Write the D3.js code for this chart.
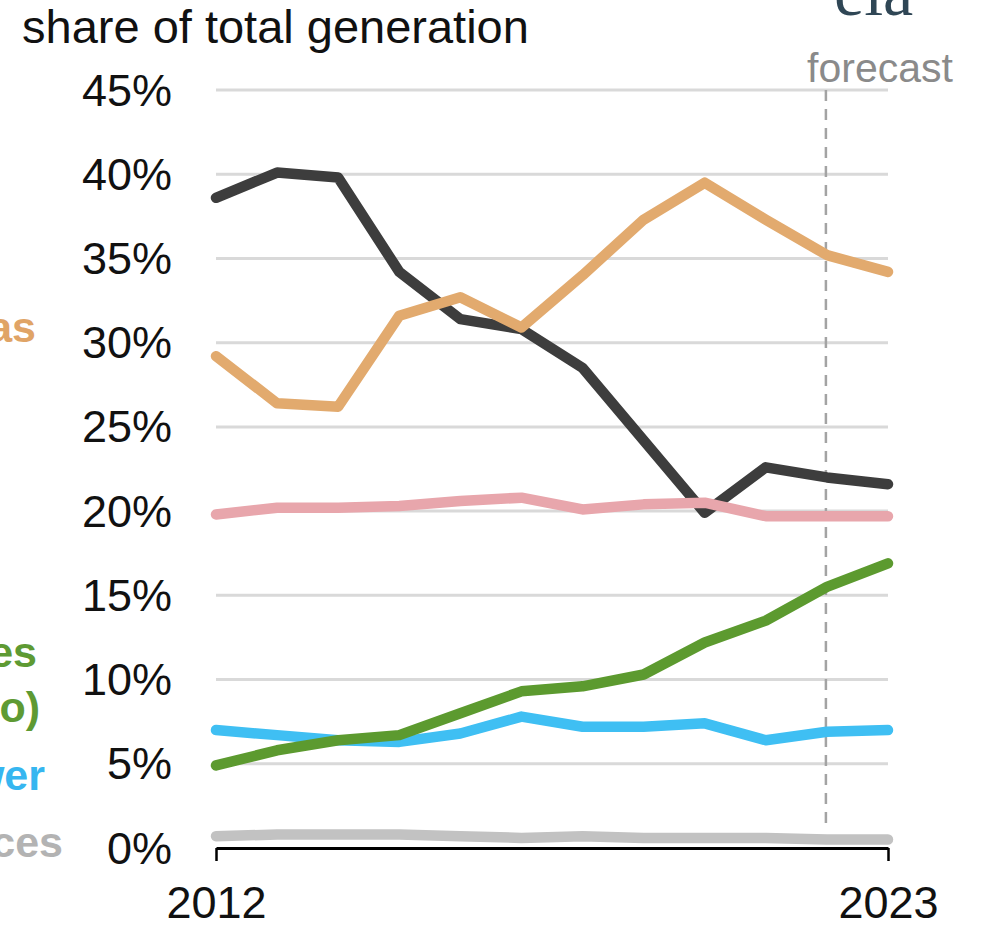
<!DOCTYPE html>
<html>
<head>
<meta charset="utf-8">
<script src="https://cdn.jsdelivr.net/npm/d3@7"></script>
<style>
  html, body { margin: 0; padding: 0; background: #fff; }
  svg { display: block; font-family: "Liberation Sans", Arial, sans-serif; }
</style>
</head>
<body>
<svg id="chart" width="987" height="925"></svg>
<script>
const years = [2012, 2013, 2014, 2015, 2016, 2017, 2018, 2019, 2020, 2021, 2022, 2023];
const coal =       [38.6, 40.1, 39.8, 34.2, 31.4, 30.8, 28.5, 24.2, 19.9, 22.6, 22.0, 21.6];
const naturalGas = [29.2, 26.4, 26.2, 31.6, 32.7, 30.9, 34.0, 37.3, 39.5, 37.3, 35.2, 34.2];
const nuclear =    [19.8, 20.2, 20.2, 20.3, 20.6, 20.8, 20.1, 20.4, 20.5, 19.7, 19.7, 19.7];
const renewables = [4.9, 5.8, 6.4, 6.7, 8.0, 9.3, 9.6, 10.3, 12.2, 13.5, 15.5, 16.9];
const hydropower = [7.0, 6.7, 6.4, 6.3, 6.8, 7.8, 7.2, 7.2, 7.4, 6.4, 6.9, 7.0];
const otherSources = [0.7, 0.8, 0.8, 0.8, 0.7, 0.6, 0.7, 0.6, 0.6, 0.6, 0.5, 0.5];
const yTicks = [0, 5, 10, 15, 20, 25, 30, 35, 40, 45];
const xTickLabels = [2012, 2023];
const forecastYear = 2022;

const series = [
  { name: "other sources", values: otherSources, color: "#c2c2c2", label: "#b3b3b3", lines: ["other sources"], lx: [63], ly: [857] },
  { name: "hydropower", values: hydropower, color: "#3fbff3", label: "#36b6f0", lines: ["hydropower"], lx: [45], ly: [790] },
  { name: "coal", values: coal, color: "#3d3d3d", label: "#3d3d3d", lines: [], lx: [], ly: [] },
  { name: "natural gas", values: naturalGas, color: "#e2aa6e", label: "#e0a466", lines: ["natural gas"], lx: [36], ly: [342] },
  { name: "nuclear", values: nuclear, color: "#e8a6ac", label: "#e8a6ac", lines: [], lx: [], ly: [] },
  { name: "renewables", values: renewables, color: "#5c9a2f", label: "#5e9a33", lines: ["renewables", "(excluding hydro)"], lx: [37, 40], ly: [667, 722] }
];

const svg = d3.select("#chart");
const x = d3.scaleLinear().domain([2012, 2023]).range([216, 888]);
const y = d3.scaleLinear().domain([0, 45]).range([848, 90]);

// gridlines
svg.append("g").selectAll("line").data(yTicks.filter(d => d > 0)).join("line")
  .attr("x1", x(2012)).attr("x2", x(2023))
  .attr("y1", d => y(d)).attr("y2", d => y(d))
  .attr("stroke", "#d9d9d9").attr("stroke-width", 3);

// y tick labels
svg.append("g").selectAll("text").data(yTicks).join("text")
  .attr("x", 172).attr("y", d => y(d) + 15.5)
  .attr("text-anchor", "end").attr("font-size", 45).attr("fill", "#111")
  .text(d => d + "%");

// x axis
const xAxis = d3.axisBottom(x).tickValues(xTickLabels).tickFormat(d3.format("d")).tickSize(13).tickSizeOuter(0);
const gx = svg.append("g").attr("transform", `translate(0,${y(0)})`).call(xAxis);
gx.select(".domain").attr("stroke", "#000").attr("stroke-width", 3);
gx.selectAll(".tick line").attr("stroke", "#000").attr("stroke-width", 2.5);
gx.selectAll(".tick text").attr("font-size", 45).attr("fill", "#111")
  .attr("font-family", "Liberation Sans, Arial, sans-serif").attr("y", 38).attr("dy", "0.71em");

// forecast line
svg.append("line")
  .attr("x1", x(forecastYear) - 1).attr("x2", x(forecastYear) - 1)
  .attr("y1", y(45)).attr("y2", y(0) - 18)
  .attr("stroke", "#a3a3a3").attr("stroke-width", 2.5).attr("stroke-dasharray", "11,8");
svg.append("text").attr("x", 880).attr("y", 82).attr("text-anchor", "middle")
  .attr("font-size", 41).attr("fill", "#8a8a8a").text("forecast");

// series lines
const line = d3.line().x((d, i) => x(years[i])).y(d => y(d));
svg.append("g").selectAll("path").data(series).join("path")
  .attr("d", d => line(d.values))
  .attr("fill", "none").attr("stroke", d => d.color)
  .attr("stroke-width", 10.5).attr("stroke-linejoin", "round").attr("stroke-linecap", "round");

// left labels (cropped at the left edge, as in the reference)
series.forEach(s => {
  s.lines.forEach((t, i) => {
    svg.append("text")
      .attr("x", s.lx[i]).attr("y", s.ly[i])
      .attr("text-anchor", "end").attr("font-size", 43).attr("font-weight", "bold")
      .attr("fill", s.label).text(t);
  });
});

// title
svg.append("text").attr("x", 22).attr("y", 43).attr("font-size", 47).attr("fill", "#111")
  .text("share of total generation");

// eia logo (cropped at top)
svg.append("text").attr("x", 834).attr("y", 15).attr("font-size", 68)
  .attr("font-family", "Liberation Serif, Times New Roman, serif")
  .attr("fill", "#2f4655").text("eia");
</script>
</body>
</html>
